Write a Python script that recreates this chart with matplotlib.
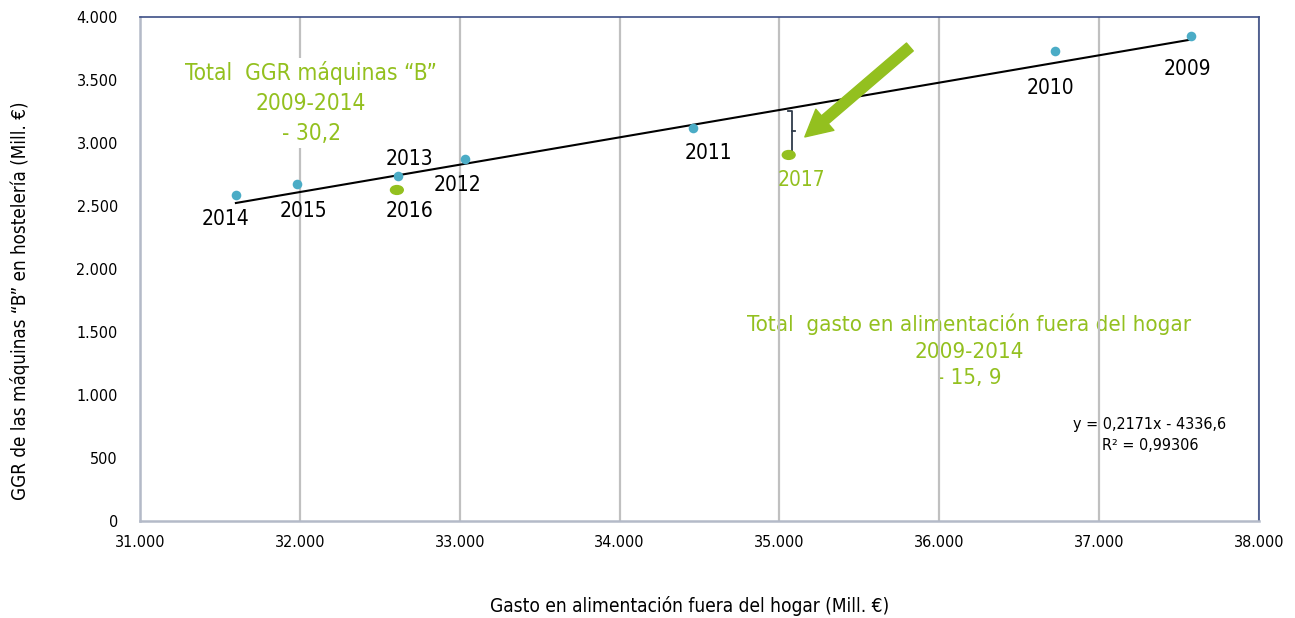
import matplotlib
matplotlib.use("Agg")
import matplotlib.pyplot as plt
from matplotlib import font_manager
from matplotlib.patches import FancyArrowPatch, Ellipse
from matplotlib.ticker import FuncFormatter, FixedLocator

# Pick a narrow sans family if one is installed
names = {f.name for f in font_manager.fontManager.ttflist}
FAMILY = "Liberation Sans Narrow" if "Liberation Sans Narrow" in names else "DejaVu Sans"
plt.rcParams["font.family"] = [FAMILY, "DejaVu Sans"]
plt.rcParams["font.stretch"] = "condensed"

# Gasto en alimentación fuera del hogar (Mill. €) vs GGR máquinas "B" (Mill. €)
years = ["2009", "2010", "2011", "2012", "2013", "2014", "2015"]
gasto = [37573, 36722, 34459, 33033, 32613, 31600, 31982]
ggr = [3849, 3730, 3119, 2873, 2738, 2587, 2675]

extra_years = ["2016", "2017"]
extra_gasto = [32607, 35058]
extra_ggr = [2627, 2905]

slope, intercept = 0.2171, -4336.6
r2 = "0,99306"

x_ticks = [31000, 32000, 33000, 34000, 35000, 36000, 37000, 38000]
y_ticks = [0, 500, 1000, 1500, 2000, 2500, 3000, 3500, 4000]

BLUE = "#4bacc6"
GREEN = "#93c01f"
GRID = "#c0c0c0"

fig = plt.figure(figsize=(12.95, 6.18), dpi=100)
ax = fig.add_axes([0.1081, 0.1570, 0.8641, 0.8155])
ax.set_xlim(31000, 38000)
ax.set_ylim(0, 4000)

thousands = FuncFormatter(lambda v, p: f"{int(v):,}".replace(",", "."))
ax.xaxis.set_major_locator(FixedLocator(x_ticks))
ax.yaxis.set_major_locator(FixedLocator(y_ticks))
ax.xaxis.set_major_formatter(thousands)
ax.yaxis.set_major_formatter(thousands)
ax.tick_params(length=0, labelsize=11.5, pad=10)
ax.tick_params(axis="y", pad=16)
ax.grid(axis="x", color=GRID, lw=1.6)
ax.set_axisbelow(True)

for side in ("top", "right"):
    ax.spines[side].set_color("#3d4f86")
    ax.spines[side].set_linewidth(1.2)
for side in ("left", "bottom"):
    ax.spines[side].set_color("#b4bac8")
    ax.spines[side].set_linewidth(1.8)

# Linear trend across the 2009-2015 series
x0, x1 = min(gasto), max(gasto)
ax.plot([x0, x1], [slope * x0 + intercept, slope * x1 + intercept],
        color="black", lw=1.5, zorder=2)

ax.scatter(gasto, ggr, s=48, color=BLUE, zorder=3, linewidths=0)

# 2016 and 2017 shown as green ellipses
for gx, gy in zip(extra_gasto, extra_ggr):
    ax.add_patch(Ellipse((gx, gy), width=80, height=70, color=GREEN, zorder=3))

# Year labels (offsets in pixels)
offsets = {
    "2009": (-3, -33), "2010": (-4, -37), "2011": (15, -25), "2012": (-7, -26),
    "2013": (12, 17), "2014": (-10, -24), "2015": (6, -27),
}
for yr, gx, gy in zip(years, gasto, ggr):
    dx, dy = offsets[yr]
    ax.annotate(yr, (gx, gy), xytext=(dx, dy), textcoords="offset pixels",
                ha="center", va="center", fontsize=15, color="black")
ax.annotate("2016", (extra_gasto[0], extra_ggr[0]), xytext=(13, -21),
            textcoords="offset pixels", ha="center", va="center",
            fontsize=15, color="black")
ax.annotate("2017", (extra_gasto[1], extra_ggr[1]), xytext=(13, -25),
            textcoords="offset pixels", ha="center", va="center",
            fontsize=15, color=GREEN)

# Bracket from the trend line down to the 2017 value
bx = extra_gasto[1] + 20
top = slope * extra_gasto[1] + intercept - 20
bot = extra_ggr[1] + 30
ax.plot([bx - 25, bx, bx, bx - 25], [top, top, bot, bot], color="#2f3a4a", lw=1.3, zorder=2)
mid = (top + bot) / 2
ax.plot([bx, bx + 20], [mid, mid], color="#2f3a4a", lw=1.3, zorder=2)

# Green arrow pointing to the gap
arrow = FancyArrowPatch((35816, 3762), (35159, 3048),
                        arrowstyle="simple,head_width=20,head_length=19,tail_width=7.5",
                        mutation_scale=1, color=GREEN, shrinkA=0, shrinkB=0, zorder=4)
ax.add_patch(arrow)

ax.text(32070, 3317, "Total  GGR máquinas \u201cB\u201d\n2009-2014\n- 30,2",
        ha="center", va="center", fontsize=16.3, color=GREEN, linespacing=1.4, zorder=3,
        bbox=dict(facecolor="white", edgecolor="none", pad=2))
ax.text(36186, 1349, "Total  gasto en alimentación fuera del hogar\n2009-2014\n- 15, 9",
        ha="center", va="center", fontsize=16, color=GREEN, linespacing=1.4, zorder=0.3)

ax.text(37317, 683, f"y = 0,2171x - 4336,6\nR\u00b2 = {r2}", ha="center", va="center",
        fontsize=11.5, color="black", linespacing=1.45, zorder=0.3)

ax.set_ylabel("GGR de las máquinas \u201cB\u201d en hostelería (Mill. €)", fontsize=13.5)
ax.yaxis.set_label_coords(-0.098, 0.4365)
ax.set_xlabel("Gasto en alimentación fuera del hogar (Mill. €)", fontsize=13.7)
ax.xaxis.set_label_coords(0.491, -0.149)

fig.savefig("out.png", dpi=100)
